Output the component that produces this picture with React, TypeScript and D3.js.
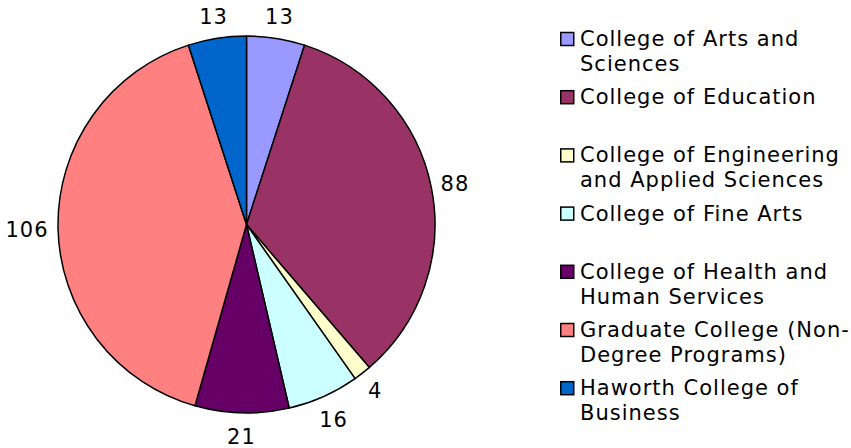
import React from "react";
import * as d3 from "d3";

const categories: string[][] = [
  ["College of Arts and", "Sciences"],
  ["College of Education"],
  ["College of Engineering", "and Applied Sciences"],
  ["College of Fine Arts"],
  ["College of Health and", "Human Services"],
  ["Graduate College (Non-", "Degree Programs)"],
  ["Haworth College of", "Business"],
];
const values: number[] = [13, 88, 4, 16, 21, 106, 13];
const colors: string[] = ["#9999FF", "#993366", "#FFFFCC", "#CCFFFF", "#660066", "#FF8080", "#0066CC"];

const W = 851;
const H = 448;
const cx = 246.5;
const cy = 224.5;
const R = 188.5;
const FONT = "'DejaVu Sans', Verdana, sans-serif";
const FS = 21;
const LS = 1;

export default function App() {
  const pie = d3.pie<number>().sort(null).value((d) => d)(values);
  const arc = d3.arc<d3.PieArcDatum<number>>().innerRadius(0).outerRadius(R);

  const labels = pie.map((p, i) => {
    const a = (p.startAngle + p.endAngle) / 2;
    const s = Math.sin(a);
    const c = Math.cos(a);
    const txt = String(values[i]);
    const hw = (txt.length * 12.7 * (FS / 20) + (txt.length - 1) * LS) / 2;
    const hh = 13;
    const t = Math.min(Math.abs(s) > 1e-6 ? hw / Math.abs(s) : 1e9, Math.abs(c) > 1e-6 ? hh / Math.abs(c) : 1e9);
    const dist = R + 10 + t;
    return { x: cx + dist * s, y: cy - dist * c + 1.5, txt };
  });

  const legendX = 560;
  const legendY0 = 46;
  const legendStep = 58.2;
  const lineH = 25;

  return (
    <svg width={W} height={H} style={{ position: "absolute", left: 0, top: 0, background: "#fff" }}>
      <rect x={0} y={0} width={W} height={H} fill="#fff" />
      <g transform={`translate(${cx},${cy})`}>
        {pie.map((p, i) => (
          <path key={i} d={arc(p) || ""} fill={colors[i]} stroke="#000" strokeWidth={1.5} strokeLinejoin="round" />
        ))}
      </g>
      {labels.map((l, i) => (
        <text
          key={i}
          x={l.x}
          y={l.y}
          textAnchor="middle"
          dominantBaseline="central"
          fontFamily={FONT}
          fontSize={FS}
          letterSpacing={LS}
          fill="#000"
        >
          {l.txt}
        </text>
      ))}
      {categories.map((lines, i) => {
        const by = legendY0 + i * legendStep;
        return (
          <g key={i}>
            <rect x={legendX + 0.75} y={by - 13.5} width={13} height={13} fill={colors[i]} stroke="#000" strokeWidth={1.5} />
            {lines.map((ln, j) => (
              <text key={j} x={legendX + 20} y={by + j * lineH} fontFamily={FONT} fontSize={FS} letterSpacing={LS} fill="#000">
                {ln}
              </text>
            ))}
          </g>
        );
      })}
    </svg>
  );
}
